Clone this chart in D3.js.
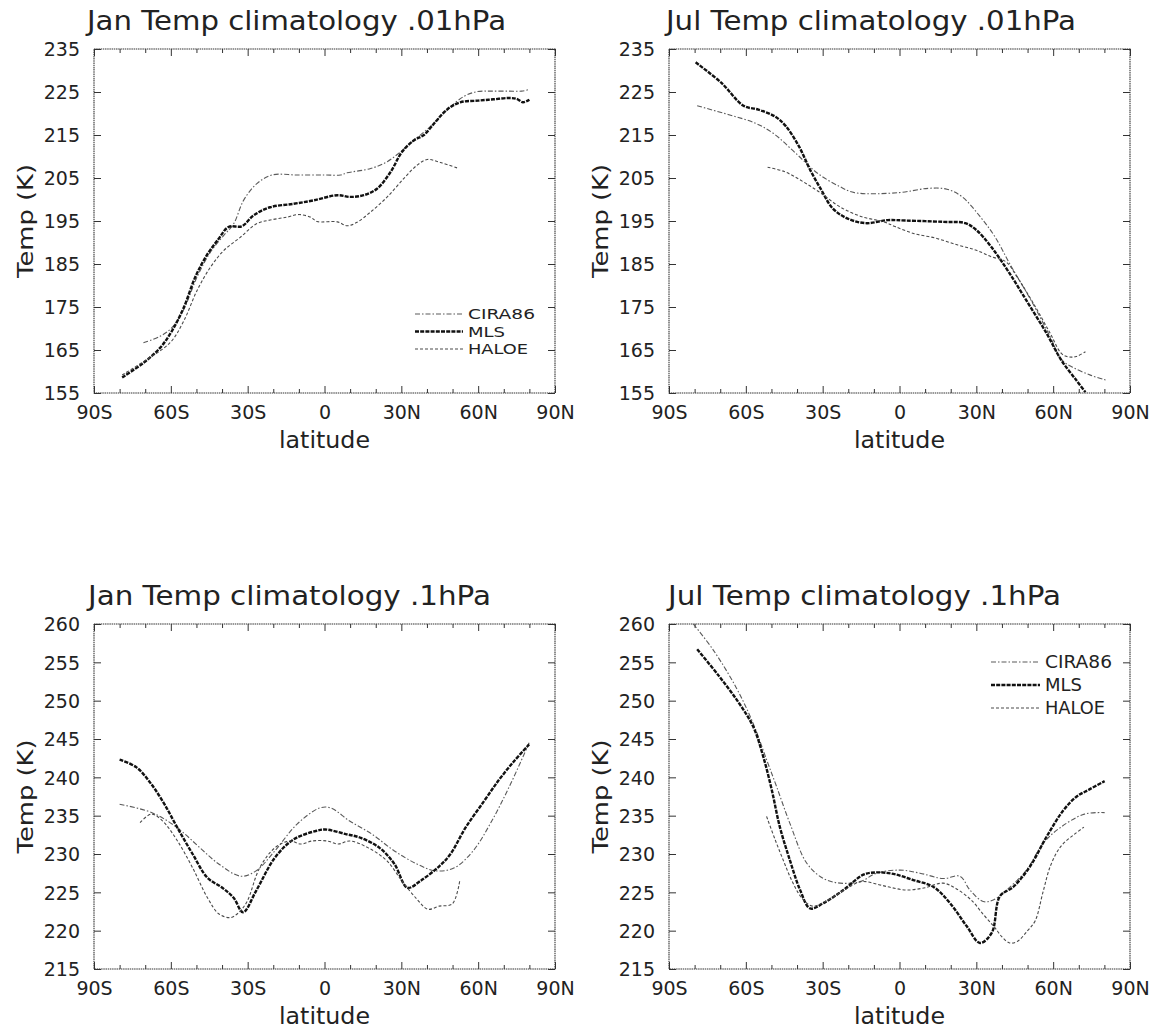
<!DOCTYPE html>
<html>
<head>
<meta charset="utf-8">
<script src="https://cdn.jsdelivr.net/npm/d3@7"></script>
<style>
  html, body { margin: 0; padding: 0; background: #fff; }
  svg { display: block; }
</style>
</head>
<body>
<svg id="fig" width="1151" height="1028"></svg>
<script>
// ---- axis labelling ----
const latTicks = [-90, -60, -30, 0, 30, 60, 90];
const latTickLabels = ["90S", "60S", "30S", "0", "30N", "60N", "90N"];
const latMinorTicks = [-80, -70, -50, -40, -20, -10, 10, 20, 40, 50, 70, 80];
const tempTicks01 = [155, 165, 175, 185, 195, 205, 215, 225, 235];
const tempTicks1 = [215, 220, 225, 230, 235, 240, 245, 250, 255, 260];
const seriesNames = ["CIRA86", "MLS", "HALOE"];

// ---- January, 0.01 hPa : [latitude, temperature K] ----
const jan01CIRA = [[-70.7,166.7],[-64.2,168.2],[-59.6,170.2],[-55,174.4],[-49.8,181.9],[-44.6,187.7],[-39.4,191.6],[-35.5,194.3],[-31.6,199.8],[-26.4,203.7],[-20.5,205.7],[-10.7,205.7],[0,205.7],[6.2,205.7],[8.8,206.2],[18,207.2],[24.5,208.8],[29.7,211.1],[35,213.8],[41.4,217],[48,220.9],[54.5,224],[59.7,225.1],[65,225.2],[72,225.2],[77,225.2],[80,225.6]];
const jan01MLS = [[-79,158.6],[-70.7,162],[-64.2,165.5],[-59.6,169.4],[-55,174.8],[-50.5,181.9],[-46,187],[-41.4,190.8],[-37.5,193.6],[-32.2,193.8],[-27.7,196.3],[-21.2,198.2],[-12,199],[-4.2,199.8],[5,201],[10,200.6],[15.3,201],[20.5,202.5],[25.8,206.4],[30.3,211.1],[35,213.8],[38.8,215],[43.4,218.1],[48,221],[53,222.6],[60,223],[66,223.3],[72,223.6],[75,223.4],[77.5,222.6],[80,223.2]];
const jan01HALOE = [[-79,159.2],[-70.7,162.3],[-60.3,166.7],[-55,171.7],[-49.8,178.8],[-44.6,184.2],[-39.4,188.1],[-32.9,191.2],[-26.4,194.4],[-20.5,195.3],[-14.6,195.9],[-10,196.5],[-5.5,195.9],[-2.9,194.9],[5,194.8],[8.8,193.9],[12.7,194.7],[18,197.1],[24.5,200.6],[31,204.9],[36.2,208],[40.1,209.3],[45.3,208.6],[52.5,207.2]];

// ---- July, 0.01 hPa ----
const jul01CIRA = [[-79,221.8],[-66.6,219.7],[-56.5,217.8],[-49.3,215.4],[-40.6,210.8],[-32,206.1],[-23.3,203],[-17.6,201.6],[-0.2,201.6],[11.3,202.6],[18.5,202.4],[24.3,200.7],[31.5,196],[37.3,191.3],[43,185.1],[51.7,176.2],[58.9,168],[63.2,162.8],[67.6,161],[74.8,159.1],[80.6,158]];
const jul01MLS = [[-79.6,231.9],[-69.5,227.1],[-60.9,221.8],[-55.1,220.9],[-48.6,219.3],[-44.3,217],[-39.2,212.3],[-34.9,206.9],[-30.5,202.2],[-26.2,198],[-20.4,195.6],[-13.2,194.5],[-4.6,195.2],[2.6,195.1],[17,194.8],[25.7,194.5],[30,192.9],[35.8,189],[43,182.8],[50.3,175.8],[57.5,168.8],[63.2,162.6],[69,158],[72.6,155.2]];
const jul01HALOE = [[-51.5,207.5],[-45,206.5],[-37.8,204.2],[-30.5,201.4],[-23.3,198.3],[-14.7,196],[-6,194.8],[-1.7,193.7],[5.5,192.1],[14.2,191],[22.8,189.4],[30,188.2],[35.8,186.7],[41.6,185.5],[45.9,182],[53.1,175],[58.9,168.8],[63.2,164.2],[66.1,163.4],[69,163.5],[72.6,164.6]];

// ---- January, 0.1 hPa ----
const jan1CIRA = [[-80,236.5],[-69.1,235.6],[-63.2,234.7],[-55.9,233],[-48.6,230.8],[-41.3,228.7],[-32.6,227.1],[-26.7,227.8],[-19.4,230.4],[-10.7,233.9],[-1.9,236],[2.5,236],[9.8,234.3],[18.5,232.6],[27.3,230.4],[36.1,228.7],[43.4,227.8],[50.7,228.2],[58,230.4],[65.3,234.3],[72.6,239.1],[79.9,244.5]];
const jan1MLS = [[-80,242.3],[-73.4,241.3],[-67.6,239.1],[-62.5,236.5],[-57.4,233.4],[-51.5,230],[-45.7,226.9],[-39.9,225.6],[-35.5,224.3],[-31.8,222.4],[-26.7,225.2],[-19.4,229.5],[-12.1,231.9],[-3.4,233],[0.3,233.2],[8.3,232.6],[14.2,232.1],[21.5,230.8],[27.3,228.7],[32.4,225.6],[37.5,226.5],[44.8,228.4],[49.2,230],[55,233.4],[62.3,236.9],[68.2,239.7],[74,242.1],[79.9,244.3]];
const jan1HALOE = [[-72,234.1],[-67.6,235.2],[-63.2,234.3],[-57.4,231.7],[-51.5,228.2],[-45.7,224.3],[-41.3,222.2],[-36.9,221.7],[-34,222.2],[-30.4,223.7],[-25.3,228.2],[-19.4,230.8],[-13.6,231.7],[-9.2,231.3],[-4.8,231.7],[1,231.7],[5.4,231.3],[9.8,231.7],[17.1,230.8],[24.4,229.1],[30.2,226.5],[36.1,224.1],[40.4,222.8],[44.8,223.2],[49.9,223.5],[52.8,226.5]];

// ---- July, 0.1 hPa ----
const jul1CIRA = [[-80.5,260],[-72.7,256.6],[-63.6,251.6],[-57.1,247],[-51.9,242.3],[-48,238.8],[-42.8,234],[-36.2,228.8],[-29.7,226.8],[-23.2,226.2],[-15.4,226.4],[-8.9,227.5],[0.2,227.9],[8,227.5],[17.1,226.8],[23.6,227.1],[27.5,225.3],[32.7,223.8],[36.6,224],[41.8,225.3],[49.6,227.9],[56.1,231.4],[62.6,233.4],[72.2,235.2],[80.1,235.4]];
const jul1MLS = [[-79,256.7],[-70.7,253.3],[-62.9,249.8],[-57.1,246.6],[-53.2,242.7],[-49.9,238.4],[-46.7,233.5],[-42.8,229.2],[-38.8,225.3],[-34.9,222.9],[-29.7,223.6],[-21.9,225.3],[-14.1,227.3],[-8.9,227.6],[-2.4,227.4],[5.4,226.6],[13.3,225.7],[19.7,223.6],[26.2,220.6],[31.4,218.4],[36,219.7],[39.2,224.5],[44.4,225.7],[51,228.4],[57.5,232.3],[64,235.7],[69.2,237.5],[74,238.4],[80.1,239.5]];
const jul1HALOE = [[-51.9,234.9],[-48.6,231.9],[-45.4,229.2],[-42,226.5],[-38,224.2],[-34,223.2],[-29,223.8],[-22,225.2],[-15,226.4],[-8,226],[-3,225.6],[3,225.3],[10,225.6],[17,226.2],[22,225.5],[28,224],[33,222],[37,220.5],[40,219.2],[43,218.4],[46,218.6],[50,220],[53,221.3],[56,225],[59,228.5],[63,231],[68,232.5],[72,233.5]];

// ---- panel layout ----
const panels = [
  { title: "Jan Temp climatology .01hPa", x0: 94,  y0: 49,  w: 461, h: 344, yDomain: [155, 235], yTicks: tempTicks01,
    series: [jan01CIRA, jan01MLS, jan01HALOE], titleX: 87,  titleLen: 419,
    legend: { x: 415, y: 314, dy: 17.5, len: 48, fontSize: 14.5, labelLen: [67, 37, 60] } },
  { title: "Jul Temp climatology .01hPa", x0: 669, y0: 49,  w: 461, h: 344, yDomain: [155, 235], yTicks: tempTicks01,
    series: [jul01CIRA, jul01MLS, jul01HALOE], titleX: 666, titleLen: 410, legend: null },
  { title: "Jan Temp climatology .1hPa",  x0: 94,  y0: 624, w: 461, h: 345, yDomain: [215, 260], yTicks: tempTicks1,
    series: [jan1CIRA, jan1MLS, jan1HALOE], titleX: 88,  titleLen: 403, legend: null },
  { title: "Jul Temp climatology .1hPa",  x0: 669, y0: 624, w: 461, h: 345, yDomain: [215, 260], yTicks: tempTicks1,
    series: [jul1CIRA, jul1MLS, jul1HALOE], titleX: 668, titleLen: 393,
    legend: { x: 991, y: 662, dy: 23, len: 49, fontSize: 17.5, labelLen: [67, 37, 60] } }
];

// line style for each data set
const styles = {
  CIRA86: { stroke: "#5a5a5a", width: 1.1, dash: "5,2,1.5,2" },
  MLS:    { stroke: "#111",    width: 2.4, dash: "4,1.2" },
  HALOE:  { stroke: "#4a4a4a", width: 1.1, dash: "3,2" }
};

const FONT = "'DejaVu Sans', sans-serif";
const INK = "#222";
const svg = d3.select("#fig");

panels.forEach((p, pi) => {
  const x = d3.scaleLinear().domain([-90, 90]).range([p.x0, p.x0 + p.w]);
  const y = d3.scaleLinear().domain(p.yDomain).range([p.y0 + p.h, p.y0]);
  const g = svg.append("g").attr("class", "panel");

  // clip curves to the plotting box
  const clipId = "clip" + pi;
  g.append("clipPath").attr("id", clipId)
    .append("rect").attr("x", p.x0).attr("y", p.y0).attr("width", p.w).attr("height", p.h);

  // frame with inward ticks on all four sides
  const fmt = d => latTickLabels[latTicks.indexOf(d)];
  const bottom = g.append("g").attr("transform", `translate(0,${p.y0 + p.h})`)
    .call(d3.axisBottom(x).tickValues(latTicks).tickFormat(fmt).tickSizeInner(-7).tickSizeOuter(0).tickPadding(13));
  g.append("g").attr("transform", `translate(0,${p.y0 + p.h})`)
    .call(d3.axisBottom(x).tickValues(latMinorTicks).tickFormat("").tickSizeInner(-4).tickSizeOuter(0));
  g.append("g").attr("transform", `translate(0,${p.y0})`)
    .call(d3.axisTop(x).tickValues(latTicks).tickFormat("").tickSizeInner(-7).tickSizeOuter(0));
  g.append("g").attr("transform", `translate(0,${p.y0})`)
    .call(d3.axisTop(x).tickValues(latMinorTicks).tickFormat("").tickSizeInner(-4).tickSizeOuter(0));
  const left = g.append("g").attr("transform", `translate(${p.x0},0)`)
    .call(d3.axisLeft(y).tickValues(p.yTicks).tickFormat(d3.format("d")).tickSizeInner(-7).tickSizeOuter(0).tickPadding(14));
  g.append("g").attr("transform", `translate(${p.x0 + p.w},0)`)
    .call(d3.axisRight(y).tickValues(p.yTicks).tickFormat("").tickSizeInner(-7).tickSizeOuter(0));

  g.selectAll(".domain").remove();
  g.selectAll(".tick line").attr("stroke", "#333").attr("stroke-width", 1);
  g.selectAll(".tick text").attr("font-family", FONT).attr("font-size", 19).attr("fill", INK);
  bottom.selectAll(".tick text").attr("dy", "0.71em");
  left.selectAll(".tick text").attr("dy", "0.36em");

  g.append("rect")
    .attr("x", p.x0).attr("y", p.y0).attr("width", p.w).attr("height", p.h)
    .attr("fill", "none").attr("stroke", "#333").attr("stroke-width", 1.1)
    .attr("stroke-dasharray", "1.5,0.7");

  // curves
  const line = d3.line().x(d => x(d[0])).y(d => y(d[1])).curve(d3.curveCatmullRom.alpha(0.5));
  const curves = g.append("g").attr("clip-path", `url(#${clipId})`);
  p.series.forEach((s, si) => {
    const st = styles[seriesNames[si]];
    curves.append("path").datum(s)
      .attr("d", line)
      .attr("fill", "none")
      .attr("stroke", st.stroke)
      .attr("stroke-width", st.width)
      .attr("stroke-dasharray", st.dash)
      .attr("stroke-linejoin", "round");
  });

  // title and axis titles
  g.append("text").attr("x", p.titleX).attr("y", p.y0 - 19)
    .attr("font-family", FONT).attr("font-size", 26).attr("fill", INK)
    .attr("textLength", p.titleLen).attr("lengthAdjust", "spacingAndGlyphs")
    .text(p.title);
  g.append("text").attr("x", p.x0 + p.w / 2).attr("y", p.y0 + p.h + 55)
    .attr("text-anchor", "middle").attr("font-family", FONT).attr("font-size", 23).attr("fill", INK)
    .attr("textLength", 91).attr("lengthAdjust", "spacingAndGlyphs")
    .text("latitude");
  g.append("text")
    .attr("transform", `translate(${p.x0 - 61},${p.y0 + p.h / 2}) rotate(-90)`)
    .attr("text-anchor", "middle").attr("font-family", FONT).attr("font-size", 22).attr("fill", INK)
    .attr("textLength", 114).attr("lengthAdjust", "spacingAndGlyphs")
    .text("Temp (K)");

  // legend
  if (p.legend) {
    const L = p.legend;
    seriesNames.forEach((name, i) => {
      const st = styles[name];
      const yy = L.y + i * L.dy;
      g.append("line").attr("x1", L.x).attr("x2", L.x + L.len).attr("y1", yy).attr("y2", yy)
        .attr("stroke", st.stroke).attr("stroke-width", st.width).attr("stroke-dasharray", st.dash);
      g.append("text").attr("x", L.x + L.len + 5).attr("y", yy + L.fontSize * 0.36)
        .attr("font-family", FONT).attr("font-size", L.fontSize).attr("fill", INK)
        .attr("textLength", L.labelLen[i]).attr("lengthAdjust", "spacingAndGlyphs")
        .text(name);
    });
  }
});
</script>
</body>
</html>
